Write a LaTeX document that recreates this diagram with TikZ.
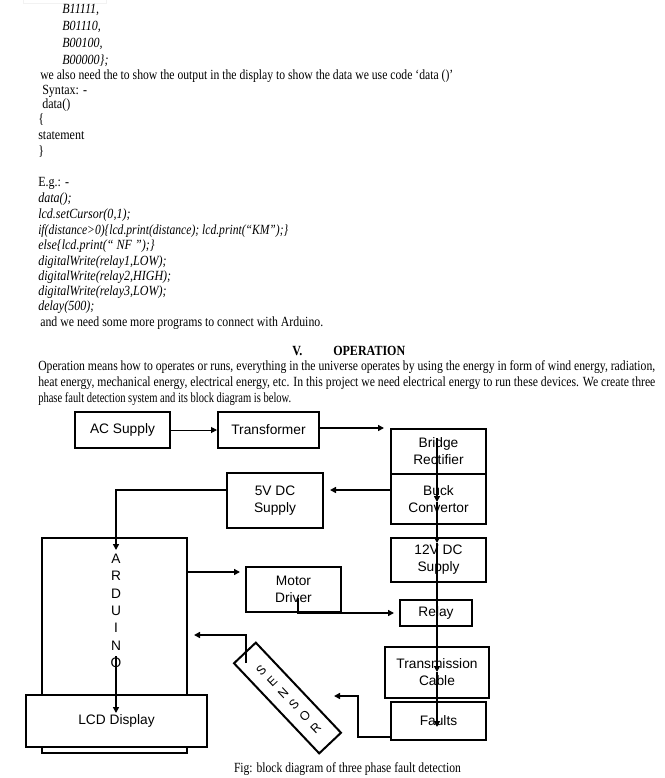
\documentclass[tikz,border=0pt]{standalone}
\usepackage{fontspec}
\setmainfont{Liberation Serif}
\newfontfamily\diagfont{Liberation Sans}
\usepackage{graphicx}
\usetikzlibrary{arrows.meta}
\newcommand\bodyfont{\fontsize{10.5}{12.5}\selectfont}
\newcommand\dfont{\diagfont\fontsize{10.3}{12.75}\selectfont}
\newcommand\sq[1]{\scalebox{0.86}[1]{#1}}
\newcommand\fitw[2]{\resizebox{#1}{\height}{#2}}
\tikzset{
  txt/.style={anchor=base west, inner sep=0pt, font=\bodyfont},
  box/.style={draw, line width=1.5pt, inner sep=0pt, align=center, font=\dfont},
  arr/.style={line width=1.5pt, -{Triangle[length=4.5pt,width=4.5pt]}},
  thinarr/.style={line width=0.75pt, -{Triangle[length=4.5pt,width=4.5pt]}},
}
\begin{document}
\begin{tikzpicture}[x=0.75pt,y=-0.75pt]
\useasboundingbox[fill=white] (0,0) rectangle (664,778);
\draw[gray!10, line width=0.75pt] (23,0) |- (106,3) -- (106,0);

% ---- text above the figure ----
\node[txt] (l1) at (62,13) {\sq{\itshape B11111,}};
\node[txt] (l2) at (62,30) {\sq{\itshape B01110,}};
\node[txt] (l3) at (62,47) {\sq{\itshape B00100,}};
\node[txt] (l4) at (62,64) {\sq{\itshape B00000\};}};
\node[txt] (l5) at (40,79) {\fitw{309.75pt}{we also need the to show the output in the display to show the data we use code ‘data ()’}};
\node[txt] (l6) at (42,94) {\sq{Syntax: -}};
\node[txt] (l7) at (42,108) {\sq{data()}};
\node[txt] (l8) at (38,123) {\sq{\{}};
\node[txt] (l9) at (38,139) {\sq{statement}};
\node[txt] (l10) at (38,155) {\sq{\}}};
\node[txt] (l11) at (38,186) {\sq{E.g.: -}};
\node[txt] (l12) at (38,202) {\sq{\itshape data();}};
\node[txt] (l13) at (38,218) {\sq{\itshape lcd.setCursor(0,1);}};
\node[txt] (l14) at (38,234) {\fitw{187.5pt}{\itshape if(distance>0)\{lcd.print(distance); lcd.print(“KM”);\}}};
\node[txt] (l15) at (38,249) {\sq{\itshape else\{lcd.print(“ NF ”);\}}};
\node[txt] (l16) at (38,265) {\sq{\itshape digitalWrite(relay1,LOW);}};
\node[txt] (l17) at (38,280) {\sq{\itshape digitalWrite(relay2,HIGH);}};
\node[txt] (l18) at (38,295) {\sq{\itshape digitalWrite(relay3,LOW);}};
\node[txt] (l19) at (38,310) {\sq{\itshape delay(500);}};
\node[txt] (l20) at (40,326) {\fitw{212.25pt}{and we need some more programs to connect with Arduino.}};
\node[txt] (h1) at (292,355) {\sq{\bfseries V.}};
\node[txt] (h2) at (333,355) {\fitw{54pt}{\bfseries OPERATION}};
\node[txt] (p1) at (38,370) {\fitw{462.75pt}{Operation means how to operates or runs, everything in the universe operates by using the energy in form of wind energy, radiation,}};
\node[txt] (p2) at (38,386) {\fitw{462.75pt}{heat energy, mechanical energy, electrical energy, etc. In this project we need electrical energy to run these devices. We create three}};
\node[txt] (p3) at (38,402) {\fitw{189.75pt}{phase fault detection system and its block diagram is below.}};

% ---- block diagram ----
\node[box, minimum width=71.25pt, minimum height=27pt] (ac) at (122.5,430) {AC Supply};
\node[box, minimum width=75.75pt, minimum height=27pt] (tr) at (268.5,430) {Transformer};
\node[box, minimum width=71.25pt, minimum height=33.75pt] (br) at (438.5,451.5) {Bridge\\Rectifier};
\node[box, minimum width=71.25pt, minimum height=37.5pt] (bk) at (438.5,499) {Buck\\Convertor};
\node[box, minimum width=72pt, minimum height=41.25pt] (v5) at (275,500.5) {5V DC\\Supply};
\node[box, minimum width=71.25pt, minimum height=33pt] (v12) at (438.5,560) {12V DC\\Supply};
\node[box, minimum width=54pt, minimum height=19.5pt] (rl) at (436,613) {Relay};
\node[box, minimum width=78pt, minimum height=38.25pt] (tc) at (437,672.5) {Transmission\\Cable};
\node[box, minimum width=71.25pt, minimum height=28.5pt] (ft) at (438.5,721) {Faults};
\node[box, minimum width=71.25pt, minimum height=33.75pt] (md) at (293.5,589.5) {Motor\\Driver};
\node[box, minimum width=108.75pt, minimum height=161.25pt] (ard) at (114.5,645.5) {};
\node[align=center, inner sep=0pt, font=\diagfont\fontsize{10.3}{13}\selectfont] (ardt) at (116,611) {A\\R\\D\\U\\I\\N\\O};
\node[box, fill=white, minimum width=135.75pt, minimum height=39pt] (lcd) at (116.5,721) {LCD Display};
\node[box, minimum width=22.5pt, minimum height=93pt, rotate=43.4] (sn) at (287.5,698) {};
\node[align=center, inner sep=0pt, rotate=43.4, font=\diagfont\fontsize{9.5}{11.9}\selectfont] (snt) at (288.5,699) {S\\E\\N\\S\\O\\R};

% ---- connectors ----
\draw[thinarr] (ac.east) -- (tr.west);
\draw[arr, shorten >=4.5pt] ([yshift=1.5pt]tr.east) -- ([yshift=1.5pt]tr.east -| br.west);
\coordinate (bkout) at ([yshift=6.75pt]bk.west);
\draw[arr, shorten >=4.5pt] (bkout) -- (bkout -| v5.east);
\coordinate (v5out) at ([yshift=7.9pt]v5.west);
\coordinate (ardin) at (116,550);
\draw[arr] (v5out) -| (ardin);
% vertical chain
\coordinate (c1) at (437,438);
\coordinate (c2) at (437,502);
\coordinate (c3) at (437,543);
\coordinate (c4) at (437,672);
\coordinate (c5) at (437,727);
\draw[arr] (c1) -- (c2);
\draw[arr] (c2) -- (c3);
\draw[arr] (c3) -- (c4);
\draw[arr] (c4) -- (c5);
% arduino to motor driver
\coordinate (ardout) at ([yshift=-26.25pt]ard.north east);
\draw[arr, shorten >=3.75pt] (ardout) -- (ardout -| md.west);
% motor driver to relay
\coordinate (mdout) at (298,598);
\draw[arr, shorten >=3.75pt] (mdout) |- (rl.west);
% sensor to arduino
\coordinate (snout) at (246,663);
\coordinate (ardin2) at (187,635);
\draw[arr, shorten >=5.25pt] (snout) |- (ardin2);
% faults to sensor
\coordinate (ftout) at ([yshift=-12pt]ft.west);
\coordinate (fk) at (358,696);
\coordinate (snin) at (334,696);
\draw[arr] (ftout) -| (fk) -- (snin);
% arduino to lcd
\coordinate (o1) at (116,656);
\coordinate (o2) at (116,713);
\draw[arr] (o1) -- (o2);

% caption
\node[anchor=base, inner sep=0pt, font=\bodyfont] (cap) at (347.5,772) {\fitw{170.25pt}{Fig: block diagram of three phase fault detection}};
\end{tikzpicture}
\end{document}
